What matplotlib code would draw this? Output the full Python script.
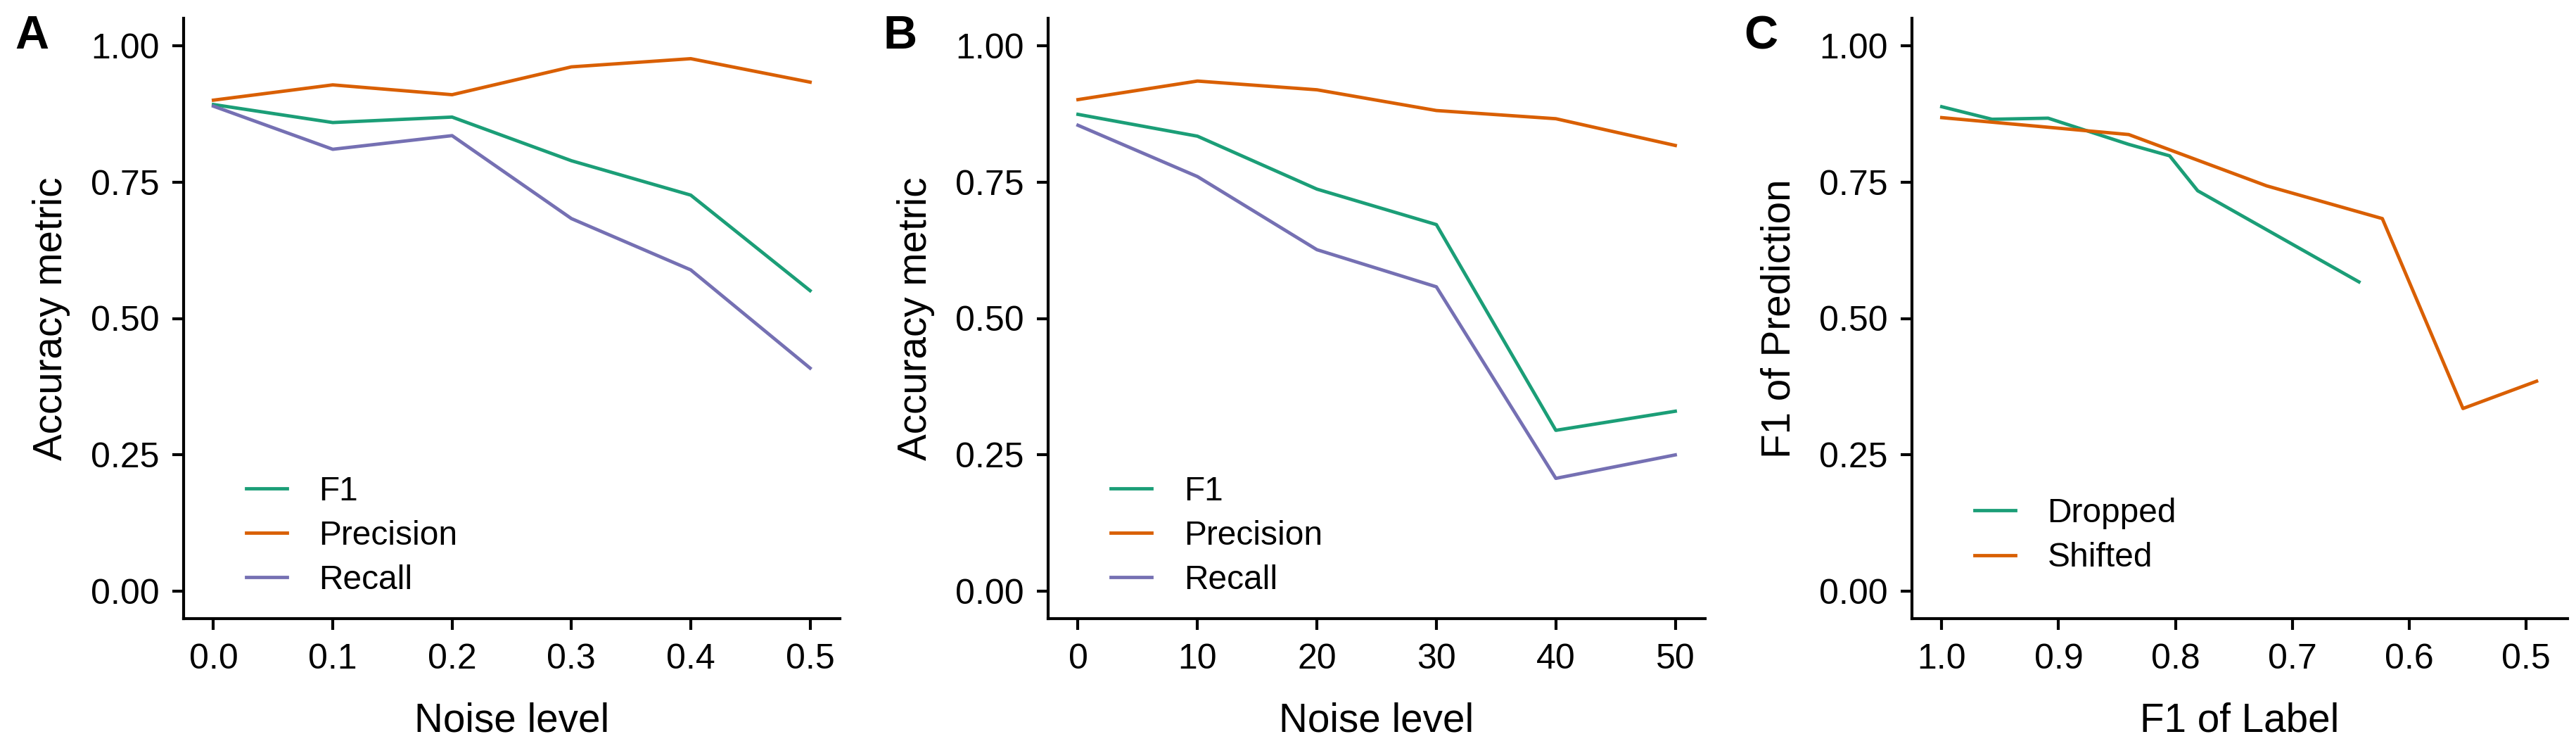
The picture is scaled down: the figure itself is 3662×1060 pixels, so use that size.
import matplotlib
matplotlib.use("Agg")
import matplotlib.pyplot as plt

plt.rcParams['font.family'] = ['Liberation Sans', 'DejaVu Sans']

GREEN = "#1B9E77"
ORANGE = "#D95F02"
PURPLE = "#7570B3"

# panel A
noise_a = [0.0, 0.1, 0.2, 0.3, 0.4, 0.5]
f1_a = [0.892, 0.859, 0.869, 0.789, 0.726, 0.551]
precision_a = [0.900, 0.928, 0.910, 0.961, 0.976, 0.933]
recall_a = [0.889, 0.810, 0.835, 0.683, 0.589, 0.409]

# panel B
noise_b = [0, 10, 20, 30, 40, 50]
f1_b = [0.874, 0.834, 0.737, 0.672, 0.295, 0.330]
precision_b = [0.901, 0.935, 0.919, 0.881, 0.866, 0.817]
recall_b = [0.854, 0.760, 0.626, 0.558, 0.207, 0.250]

# panel C
dropped_x = [1.0, 0.957, 0.909, 0.840, 0.805, 0.781, 0.643]
dropped_y = [0.888, 0.865, 0.867, 0.819, 0.798, 0.734, 0.567]
shifted_x = [1.0, 0.840, 0.722, 0.623, 0.554, 0.491]
shifted_y = [0.868, 0.837, 0.743, 0.683, 0.335, 0.385]

W, H = 3662, 1060
fig = plt.figure(figsize=(W / 300, H / 300), dpi=300)

def px_axes(left, right, top=26, bottom=879):
    return fig.add_axes([left / W, (H - bottom) / H, (right - left) / W, (bottom - top) / H])

def style(ax, xlabel, ylabel):
    for s in ["top", "right"]:
        ax.spines[s].set_visible(False)
    for s in ["left", "bottom"]:
        ax.spines[s].set_linewidth(1.0)
    ax.tick_params(length=3.8, width=1.0, labelsize=12, pad=4.5, colors="black")
    ax.set_ylim(-0.05, 1.05)
    ax.set_yticks([0, 0.25, 0.5, 0.75, 1.0])
    ax.set_yticklabels(["0.00", "0.25", "0.50", "0.75", "1.00"])
    ax.set_xlabel(xlabel, fontsize=13.6, labelpad=9)
    ax.set_ylabel(ylabel, fontsize=13.6, labelpad=7)

lw = 1.15

axA = px_axes(261, 1194)
axA.plot(noise_a, f1_a, color=GREEN, lw=lw, label="F1")
axA.plot(noise_a, precision_a, color=ORANGE, lw=lw, label="Precision")
axA.plot(noise_a, recall_a, color=PURPLE, lw=lw, label="Recall")
axA.set_xlim(-0.025, 0.525)
axA.set_xticks(noise_a)
axA.set_xticklabels(["0.0", "0.1", "0.2", "0.3", "0.4", "0.5"])
style(axA, "Noise level", "Accuracy metric")

axB = px_axes(1490, 2424)
axB.plot(noise_b, f1_b, color=GREEN, lw=lw, label="F1")
axB.plot(noise_b, precision_b, color=ORANGE, lw=lw, label="Precision")
axB.plot(noise_b, recall_b, color=PURPLE, lw=lw, label="Recall")
axB.set_xlim(-2.5, 52.5)
axB.set_xticks(noise_b)
style(axB, "Noise level", "Accuracy metric")

axC = px_axes(2718, 3650)
axC.plot(dropped_x, dropped_y, color=GREEN, lw=lw, label="Dropped")
axC.plot(shifted_x, shifted_y, color=ORANGE, lw=lw, label="Shifted")
axC.set_xlim(1.0255, 0.4645)
axC.set_xticks([1.0, 0.9, 0.8, 0.7, 0.6, 0.5])
axC.set_xticklabels(["1.0", "0.9", "0.8", "0.7", "0.6", "0.5"])
style(axC, "F1 of Label", "F1 of Prediction")

for ax in [axA, axB, axC]:
    ax.legend(loc="center left", bbox_to_anchor=(0.095, 0.138), frameon=False,
              fontsize=11.5, handlelength=1.22, handletextpad=0.95,
              labelspacing=0.38, borderpad=0, borderaxespad=0)

for lab, x in [("A", 21), ("B", 1255), ("C", 2479)]:
    fig.text(x / W, 1 - 69 / H, lab, fontsize=16, fontweight="bold",
             ha="left", va="baseline")

fig.savefig("out.png", dpi=300, facecolor="white")
